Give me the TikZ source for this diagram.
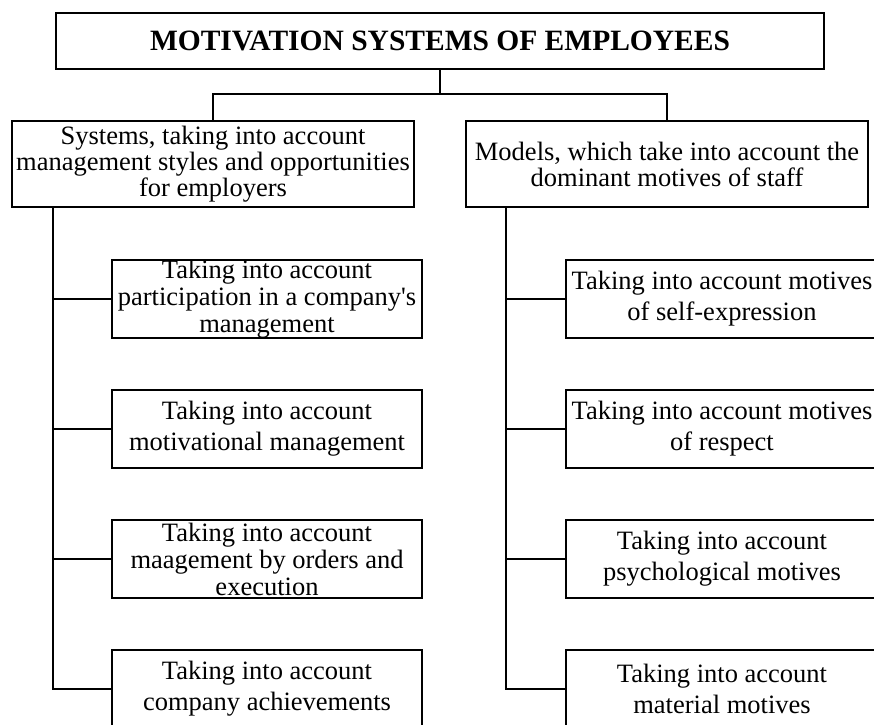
\documentclass[tikz,border=0pt]{standalone}
\usepackage{fontspec}
\setmainfont{Liberation Serif}
\usetikzlibrary{positioning}

\begin{document}
\begin{tikzpicture}[x=1pt, y=-1pt,
    head/.style={draw, line width=2.4pt, minimum width=768pt, minimum height=56pt, inner sep=0pt, font=\bfseries\fontsize{29.5}{30}\selectfont},
    group/.style={draw, line width=2.4pt, minimum width=402pt, minimum height=86pt, inner sep=0pt, align=center, font=\fontsize{26.5}{26}\selectfont},
    item/.style={draw, line width=2.4pt, minimum height=78pt, inner sep=0pt, align=center, font=\fontsize{26.5}{31}\selectfont},
    tight/.style={font=\fontsize{26.5}{27}\selectfont},
    link/.style={line width=2.4pt},
]
  \useasboundingbox (0,0) rectangle (874,724);
  \clip (0,0) rectangle (874,724);

  \node[head] (top) at (440, 41) {MOTIVATION SYSTEMS OF EMPLOYEES};

  \node[group] (sys) at (213, 164) {Systems, taking into account \\ management styles and opportunities \\ for employers};
  \node[group] (mod) at (667, 164) {Models, which take into account the \\ dominant motives of staff};

  % left column
  \node[item, tight, minimum width=310pt] (s1) at (267, 299) {Taking into account \\ participation in a company\textquotesingle s \\ management};
  \node[item, minimum width=310pt] (s2) at (267, 429) {Taking into account \\ motivational management};
  \node[item, tight, minimum width=310pt] (s3) at (267, 559) {Taking into account \\ maagement by orders and \\ execution};
  \node[item, minimum width=310pt] (s4) at (267, 689) {Taking into account \\ company achievements};

  % right column
  \node[item, minimum width=312pt] (m1) at (722, 299) {Taking into account motives \\ of self-expression};
  \node[item, minimum width=312pt] (m2) at (722, 429) {Taking into account motives \\ of respect};
  \node[item, minimum width=312pt] (m3) at (722, 559) {Taking into account \\ psychological motives};
  \node[item, minimum width=312pt] (m4) at (722, 689) {Taking into account \\ material motives};

  \coordinate (bus) at (440, 94);
  \coordinate (sysroot) at (53, 207);
  \coordinate (modroot) at (506, 207);

  \draw[link] (top.south) -- (bus);
  \draw[link] (sys.north) |- (bus) -| (mod.north);

  \draw[link] (sysroot) |- (s4.west);
  \draw[link] (modroot) |- (m4.west);
  \foreach \n in {s1,s2,s3}
    \draw[link] (sysroot |- \n.west) -- (\n.west);
  \foreach \n in {m1,m2,m3}
    \draw[link] (modroot |- \n.west) -- (\n.west);
\end{tikzpicture}
\end{document}
